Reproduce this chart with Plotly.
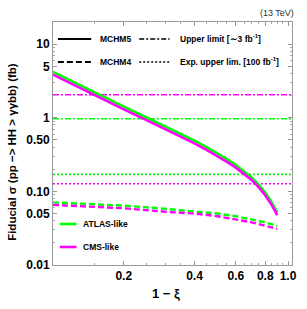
import plotly.graph_objects as go

# ---- data ----
xi_solid = [0.10, 0.12, 0.15, 0.20, 0.25, 0.30, 0.35, 0.40, 0.45, 0.50, 0.55, 0.60,
            0.65, 0.70, 0.75, 0.80, 0.85, 0.90]
mchm5_atlas = [4.2, 3.14, 2.20, 1.41, 1.01, 0.768, 0.605, 0.488, 0.399, 0.330, 0.274, 0.228,
               0.189, 0.155, 0.124, 0.0965, 0.0722, 0.0518]
mchm5_cms = [3.85, 2.89, 2.02, 1.30, 0.93, 0.706, 0.556, 0.449, 0.367, 0.304, 0.252, 0.210,
             0.174, 0.143, 0.114, 0.0888, 0.0664, 0.0477]

xi_dashed = [0.10, 0.20, 0.30, 0.40, 0.50, 0.60, 0.70, 0.80, 0.90]
mchm4_atlas = [0.071, 0.064, 0.058, 0.054, 0.050, 0.046, 0.042, 0.038, 0.034]
mchm4_cms = [0.0656, 0.059, 0.053, 0.050, 0.046, 0.042, 0.038, 0.034, 0.031]

limit_span = [0.10, 1.04]
upper_limit_atlas = 0.97
upper_limit_cms = 2.05
exp_limit_atlas = 0.17
exp_limit_cms = 0.127

x_tickvals = [0.2, 0.4, 0.6, 0.8, 1.0]
x_ticktext = ["0.2", "0.4", "0.6", "0.8", "1.0"]
y_tickvals = [0.01, 0.05, 0.1, 0.5, 1, 5, 10]
y_ticktext = ["0.01", "0.05", "0.10", "0.50", "1", "5", "10"]

GREEN = "#00ff00"
MAGENTA = "#ff00ff"
FONT = "Liberation Sans"

fig = go.Figure()

def add(x, y, color, dash, width):
    fig.add_trace(go.Scatter(x=x, y=y, mode="lines", showlegend=False, hoverinfo="skip",
                             line=dict(color=color, dash=dash, width=width)))

add(limit_span, [upper_limit_cms] * 2, MAGENTA, "6px,2px,2px,2px", 1.6)
add(limit_span, [upper_limit_atlas] * 2, GREEN, "6px,2px,2px,2px", 1.6)
add(limit_span, [exp_limit_atlas] * 2, GREEN, "2px,2px", 1.6)
add(limit_span, [exp_limit_cms] * 2, MAGENTA, "2px,2px", 1.6)
add(xi_dashed, mchm4_atlas, GREEN, "6px,3px", 2.4)
add(xi_dashed, mchm4_cms, MAGENTA, "6px,3px", 2.4)
add(xi_solid, mchm5_atlas, GREEN, "solid", 2.6)
add(xi_solid, mchm5_cms, MAGENTA, "solid", 2.6)

# pixel -> paper helpers (plot area 53..297 x, 22..265 y)
L, R, T, B = 53, 297, 22, 265
def px(x):
    return (x - L) / (R - L)
def py(y):
    return (B - y) / (B - T)

shapes = []
def sample(x0, x1, y, color, dash, width):
    shapes.append(dict(type="line", xref="paper", yref="paper",
                       x0=px(x0), x1=px(x1), y0=py(y), y1=py(y),
                       line=dict(color=color, width=width, dash=dash)))

sample(58, 92, 39, "black", "solid", 2)
sample(58, 92, 62, "black", "6px,3px", 1.8)
sample(141, 172, 39, "black", "5px,2px,2px,2px", 1.4)
sample(141, 172, 62, "black", "2px,2px", 1.4)
sample(60, 77, 224, GREEN, "solid", 2.6)
sample(60, 77, 247, MAGENTA, "solid", 2.6)

annotations = []
def label(text, x, y, size=8.5):
    annotations.append(dict(text=text, xref="paper", yref="paper", x=px(x), y=py(y),
                            xanchor="left", yanchor="middle", showarrow=False,
                            font=dict(family=FONT, size=size, color="black", weight="bold")))

label("MCHM5", 99, 39)
label("MCHM4", 99, 62)
label("Upper limit [∼3 fb<sup>-1</sup>]", 181, 38)
label("Exp. upper lim. [100 fb<sup>-1</sup>]", 181, 61)
label("ATLAS-like", 82, 224)
label("CMS-like", 82, 247)
annotations.append(dict(text="(13 TeV)", xref="paper", yref="paper", x=px(301), y=py(13),
                        xanchor="right", yanchor="middle", showarrow=False,
                        font=dict(family=FONT, size=9, color="#333")))
annotations.append(dict(text="Fiducial σ (pp −> HH > γγbb) (fb)", xref="paper", yref="paper",
                        x=px(11), y=py(152), xanchor="center", yanchor="middle", textangle=-90,
                        showarrow=False, font=dict(family=FONT, size=11.5, color="black", weight="bold")))
annotations.append(dict(text="1 − ξ", xref="paper", yref="paper",
                        x=px(168), y=py(293), xanchor="center", yanchor="middle",
                        showarrow=False, font=dict(family=FONT, size=13, color="black", weight="bold")))

x_minor = [0.1, 0.15, 0.25, 0.3, 0.35, 0.45, 0.5, 0.55, 0.65, 0.7, 0.75, 0.85, 0.9, 0.95]
y_minor = [0.02, 0.03, 0.04, 0.06, 0.07, 0.08, 0.09, 0.2, 0.3, 0.4, 0.6, 0.7, 0.8, 0.9,
           2, 3, 4, 6, 7, 8, 9, 20]

axis_common = dict(type="log", showgrid=False, zeroline=False, showline=True,
                   linecolor="#999", linewidth=1, mirror="allticks", ticks="inside",
                   ticklen=4, tickcolor="#999",
                   tickfont=dict(family=FONT, size=12, color="black", weight="bold"))

fig.update_layout(
    width=307, height=309,
    margin=dict(l=L, r=307 - R, t=T, b=309 - B),
    paper_bgcolor="white", plot_bgcolor="white",
    hovermode=False,
    shapes=shapes, annotations=annotations,
    xaxis=dict(range=[-1.0, 0.017], tickmode="array", tickvals=x_tickvals, ticktext=x_ticktext,
               minor=dict(tickmode="array", tickvals=x_minor, ticks="inside", ticklen=2,
                          tickcolor="#aaa", showgrid=False),
               **axis_common),
    yaxis=dict(range=[-2.0, 1.301], tickmode="array", tickvals=y_tickvals, ticktext=y_ticktext,
               minor=dict(tickmode="array", tickvals=y_minor, ticks="inside", ticklen=2,
                          tickcolor="#aaa", showgrid=False),
               **axis_common),
)

fig.write_html("out.html", config={"displayModeBar": False, "staticPlot": True},
               post_script="document.body.style.margin='0';document.body.style.overflow='hidden';")
